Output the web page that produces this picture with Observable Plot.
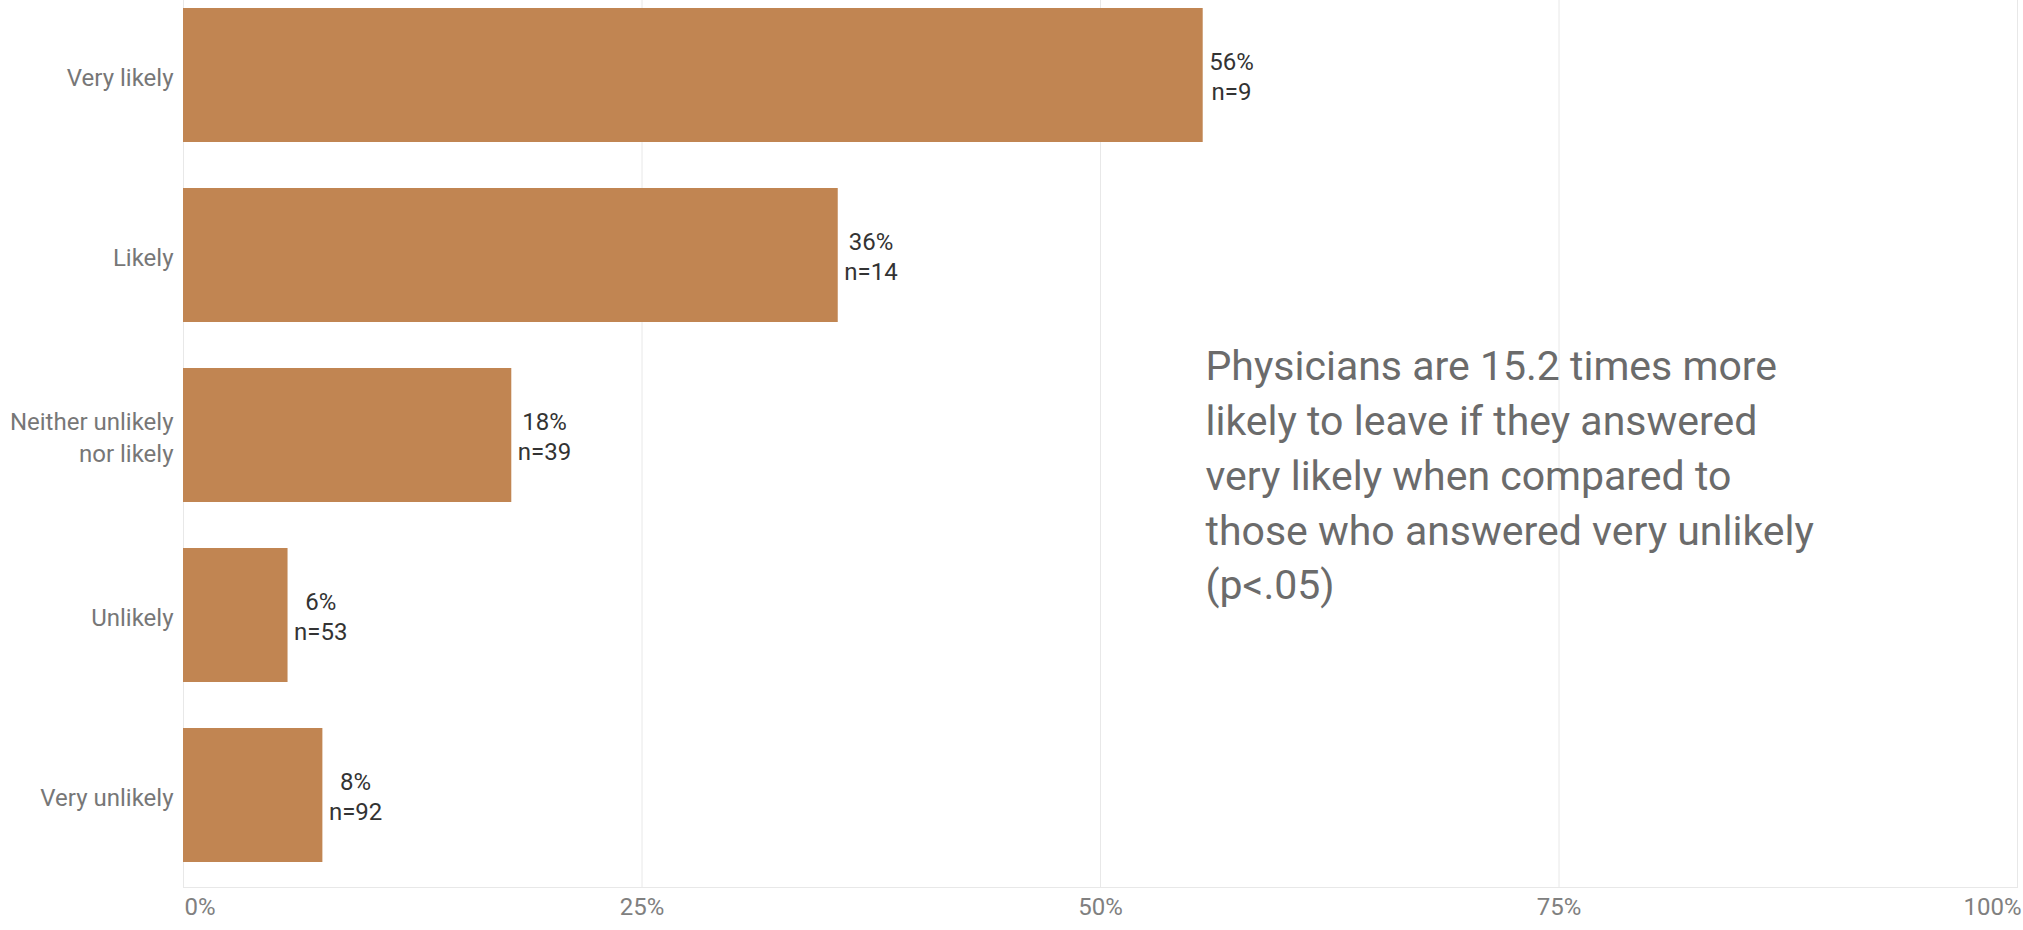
<!DOCTYPE html>
<html><head><meta charset="utf-8">
<script src="https://cdn.jsdelivr.net/npm/d3@7"></script>
<script src="https://cdn.jsdelivr.net/npm/@observablehq/plot@0.6"></script>
<style>
html,body{margin:0;padding:0;background:#fff;}
</style></head><body><div id="chart"></div>
<script>
const categories = ["Very likely", "Likely", "Neither unlikely nor likely", "Unlikely", "Very unlikely"];
const categoryLabels = ["Very likely", "Likely", "Neither unlikely\nnor likely", "Unlikely", "Very unlikely"];
const shares = [0.556, 0.357, 0.179, 0.057, 0.076];
const counts = [9, 14, 39, 53, 92];
const xTicks = [0, 0.25, 0.5, 0.75, 1];
const note = "Physicians are 15.2 times more\nlikely to leave if they answered\nvery likely when compared to\nthose who answered very unlikely\n(p<.05)";

const fmt = d => `${Math.round(d * 100)}%`;
const data = categories.map((c, i) => ({
  category: c,
  axisLabel: categoryLabels[i],
  share: shares[i],
  label: `${fmt(shares[i])}\nn=${counts[i]}`
}));
const font = "Roboto, 'Noto Sans', sans-serif";
const valueColor = "#333333";

const chart = Plot.plot({
  width: 2023, height: 930,
  marginLeft: 183, marginRight: 6, marginTop: 0, marginBottom: 43,
  style: {fontFamily: font, fontSize: "24px", background: "#fff", overflow: "visible"},
  x: {domain: [0, 1], axis: null},
  y: {domain: categories, paddingInner: 0.256, paddingOuter: 0.088, align: 0.24, axis: null},
  marks: [
    Plot.gridX(xTicks, {stroke: "#e8e8e8", strokeOpacity: 1}),
    Plot.frame({anchor: "bottom", stroke: "#e8e8e8"}),
    Plot.barX(data, {y: "category", x: "share", fill: "#C18552"}),
    Plot.text(data, {y: "category", text: "axisLabel", frameAnchor: "left", textAnchor: "end", dx: -10, lineHeight: 1.33, fontSize: 24, fill: "#777"}),
    Plot.text(data, {y: "category", x: "share", text: "label", textAnchor: "start", dx: 6, lineHeight: 1.23, fontSize: 24, fill: valueColor}),
    Plot.axisX([xTicks[0]], {label: null, tickSize: 0, tickPadding: 10, textAnchor: "start", dx: 1, tickFormat: fmt, fontSize: 24, fill: "#808080"}),
    Plot.axisX(xTicks.slice(1, 4), {label: null, tickSize: 0, tickPadding: 10, tickFormat: fmt, fontSize: 24, fill: "#808080"}),
    Plot.axisX([xTicks[4]], {label: null, tickSize: 0, tickPadding: 10, textAnchor: "end", dx: 4, tickFormat: fmt, fontSize: 24, fill: "#808080"}),
    Plot.text([note], {text: d => d, frameAnchor: "left", textAnchor: "start", lineAnchor: "middle", dx: 1022, dy: 28, fontSize: 41, lineHeight: 1.34, fill: "#6b6b6b"})
  ]
});
document.getElementById("chart").appendChild(chart);

// center each two-line value label as a block placed right of its bar
chart.querySelectorAll(`g[fill="${valueColor}"] text`).forEach(t => {
  const w = t.getBBox().width;
  t.setAttribute("text-anchor", "middle");
  const spans = t.querySelectorAll("tspan");
  spans.forEach(s => s.setAttribute("x", w / 2));
});
</script>
</body></html>
